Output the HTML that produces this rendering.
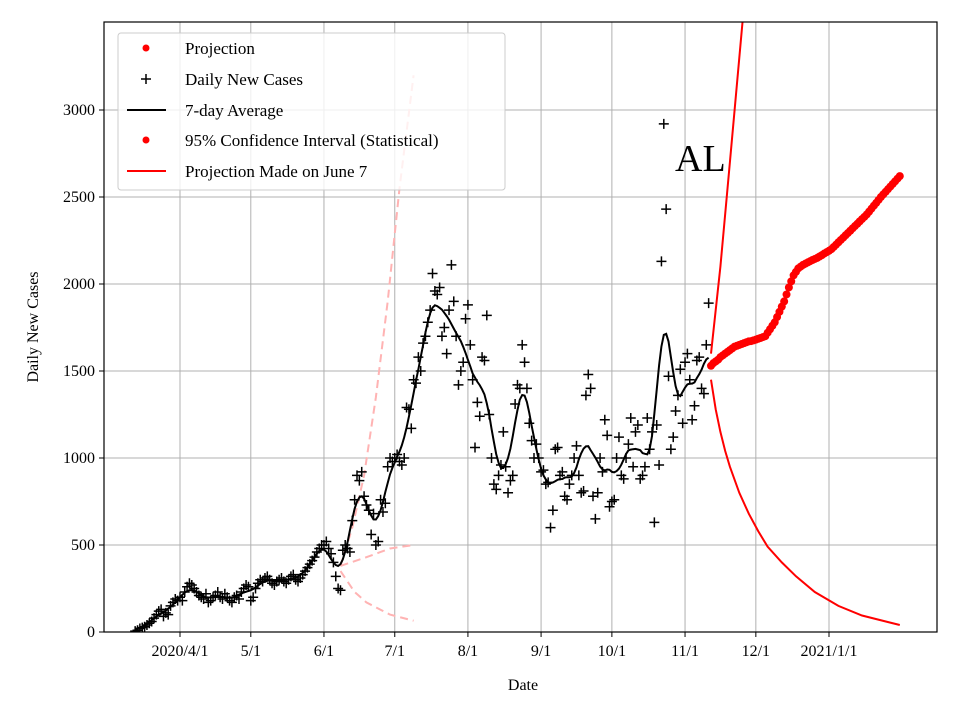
<!DOCTYPE html>
<html><head><meta charset="utf-8"><style>
body{margin:0;background:#fff}
svg{display:block;font-family:"Liberation Serif",serif}
</style></head><body>
<svg id="c" width="960" height="720"></svg>
<script>
// day index: 0 = 2020-03-01
const caseStartDay = 12;
const dailyCases = [5,10,20,25,30,40,50,60,80,100,120,130,90,110,100,150,170,190,180,
200,180,230,260,280,270,250,230,210,200,190,220,170,180,200,210,230,200,190,220,200,180,170,200,210,190,230,250,270,260,
180,200,250,280,300,290,310,320,300,280,270,290,300,310,290,280,300,320,330,300,290,310,330,350,370,390,410,430,460,480,500,
500,520,480,450,400,320,250,240,470,500,480,460,640,760,900,870,920,780,730,700,560,680,500,520,760,690,740,950,1000,980,
1000,1020,980,960,1000,1290,1280,1170,1450,1430,1580,1500,1660,1700,1780,1850,2060,1960,1940,1980,1700,1750,1600,1850,2110,1900,1700,1420,1500,1550,1800,
1880,1650,1450,1060,1320,1240,1580,1560,1820,1250,1000,850,820,900,960,1150,950,800,870,900,1310,1420,1400,1650,1550,1400,1200,1100,1000,1080,1000,
920,930,850,860,600,700,1050,1060,900,920,780,760,850,900,1000,1070,900,800,810,1360,1480,1400,780,650,800,1000,920,1220,1130,720,
750,760,1000,1120,900,880,1000,1080,1230,950,1150,1190,880,900,950,1230,1050,1150,630,1190,960,2130,2920,2430,1470,1050,1120,1270,1360,1510,1200,
1550,1600,1450,1220,1300,1560,1580,1400,1370,1650,1890];
const projStartDay = 256;
const projection = [1530,1545,1555,1565,1580,
1590,1600,1610,1620,1630,1640,1645,1650,
1655,1660,1665,1670,1672,1676,1680,
1685,1690,1695,1700,
1720,1740,1760,1780,
1810,1840,1870,1900,
1940,1980,2015,2050,
2070,2090,2100,2110,
2117,2124,2131,2138,2144,2150,
2158,2166,2175,2183,2191,2200,
2213,2226,2240,2253,2266,2280,
2293,2306,2320,2333,2346,2360,2373,2386,2400,
2416,2433,2450,2466,2483,2500,
2515,2530,2545,2560,2575,2590,2605,2620];
const ciUpperDays = [256,260,264,268,270,272];
const ciUpper = [1600,2100,2700,3300,3600,3900];
const ciLowerDays = [256,258,260,262,264,268,272,276,280,286,292,300,310,320,336];
const ciLower = [1450,1280,1150,1040,950,800,680,580,490,400,320,230,150,95,40];
const juneDays = [99,104,109,114,119,124,130];
const juneUpper = [380,600,900,1350,1900,2550,3200];
const juneMidDays = [99,110,120,130];
const juneMid = [380,430,480,500];
const juneLowDays = [99,105,110,120,130];
const juneLow = [350,230,170,100,65];
const yTicks = [0,500,1000,1500,2000,2500,3000];
const xTickDays = [31,61,92,122,153,184,214,245,275,306];
const xTickLabels = ["2020/4/1","5/1","6/1","7/1","8/1","9/1","10/1","11/1","12/1","2021/1/1"];

const L=104,R=937,T=22,B=632;
const X=d=>180+(d-31)*2.36;
const Y=v=>B-v*0.174;
const NS="http://www.w3.org/2000/svg";
const svg=document.getElementById('c');
function mk(tag,attrs,parent){const e=document.createElementNS(NS,tag);for(const k in attrs)e.setAttribute(k,attrs[k]);(parent||svg).appendChild(e);return e;}
const clip=mk('clipPath',{id:'pc'});mk('rect',{x:L,y:T,width:R-L,height:B-T},clip);
xTickDays.forEach((d,i)=>{
 const g=mk('line',{x1:X(d),x2:X(d),y1:T,y2:B,stroke:'#b0b0b0','stroke-width':1});
 
 
 mk('line',{x1:X(d),x2:X(d),y1:B,y2:B+5,stroke:'#000'});
 const tx=mk('text',{x:X(d),y:B+24,'text-anchor':'middle','font-size':16});tx.textContent=xTickLabels[i];
 
 
});
yTicks.forEach(v=>{
 const g=mk('line',{x1:L,x2:R,y1:Y(v),y2:Y(v),stroke:'#b0b0b0','stroke-width':1});
 
 
 mk('line',{x1:L-5,x2:L,y1:Y(v),y2:Y(v),stroke:'#000'});
 const tx=mk('text',{x:L-9,y:Y(v)+5,'text-anchor':'end','font-size':16});tx.textContent=v;
 
 
});
const plot=mk('g',{'clip-path':'url(#pc)'});
function line(days,vals,style,name){
 const p=mk('path',Object.assign({d:days.map((d,i)=>(i?'L':'M')+X(d).toFixed(1)+','+Y(vals[i]).toFixed(1)).join(''),fill:'none'},style),plot);
 
 
}
const pink={stroke:'#ffb3b3','stroke-width':2,'stroke-dasharray':'8,5'};
line(juneDays,juneUpper,pink,'june-projection-upper');
line(juneMidDays,juneMid,pink,'june-projection-mid');
line(juneLowDays,juneLow,pink,'june-projection-lower');
dailyCases.forEach((v,i)=>{
 const x=X(caseStartDay+i),y=Y(v);
 const p=mk('path',{d:`M${x-5},${y}H${x+5}M${x},${y-5}V${y+5}`,stroke:'#000','stroke-width':1.5},plot);
 
 
});
function smooth(a,h){return a.map((v,i)=>{let s=0,n=0;for(let k=i-h;k<=i+h;k++){if(k>=0&&k<a.length){s+=a[k];n++;}}return s/n;});}
const avgVals=smooth(smooth(dailyCases,3),2);
const avgDays=dailyCases.map((v,i)=>caseStartDay+i);
line(avgDays,avgVals,{stroke:'#000','stroke-width':2},'seven-day-average');
line(ciUpperDays,ciUpper,{stroke:'#f00','stroke-width':2},'ci-upper');
line(ciLowerDays,ciLower,{stroke:'#f00','stroke-width':2},'ci-lower');
projection.forEach((v,i)=>{
 const c=mk('circle',{cx:X(projStartDay+i),cy:Y(v),r:4,fill:'#f00'},plot);
 
 
});
mk('rect',{x:L,y:T,width:R-L,height:B-T,fill:'none',stroke:'#000','stroke-width':1.2});
</script>
<svg width="960" height="720" style="position:absolute;left:0;top:0;font-family:'Liberation Serif',serif">
 <text x="675" y="171" font-size="38">AL</text>
 <text x="523" y="690" font-size="16" text-anchor="middle">Date</text>
 <text transform="translate(38,327) rotate(-90)" font-size="16" text-anchor="middle">Daily New Cases</text>
 <g>
  <rect x="118" y="33" width="387" height="157" rx="3" fill="#fff" fill-opacity="0.8" stroke="#ccc"/>
  <circle cx="146" cy="48" r="3.5" fill="#f00"/>
  <text x="185" y="54" font-size="17">Projection</text>
  <path d="M141,79H151M146,74V84" stroke="#000" stroke-width="1.5"/>
  <text x="185" y="85" font-size="17">Daily New Cases</text>
  <line x1="127" x2="166" y1="110" y2="110" stroke="#000" stroke-width="2"/>
  <text x="185" y="116" font-size="17">7-day Average</text>
  <circle cx="146" cy="140" r="3.5" fill="#f00"/>
  <text x="185" y="146" font-size="17">95% Confidence Interval (Statistical)</text>
  <line x1="127" x2="166" y1="171" y2="171" stroke="#f00" stroke-width="2"/>
  <text x="185" y="177" font-size="17">Projection Made on June 7</text>
 </g>
</svg>
</body></html>
